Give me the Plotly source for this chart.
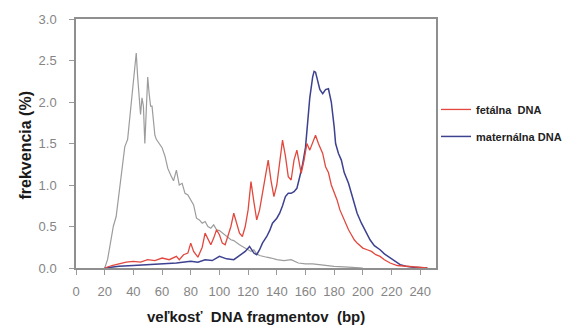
import plotly.graph_objects as go

# Grey curve (unlabelled)
grey_x = [20, 22, 24, 26, 28, 30, 32, 34, 36, 38, 40, 42, 43, 44, 45, 46, 47, 48, 49, 50,
          51, 52, 53, 54, 55, 56, 58, 60, 62, 64, 66, 68, 70, 71, 72, 74, 75, 76, 78, 80,
          82, 84, 86, 88, 90, 92, 94, 96, 98, 100, 102, 104, 106, 108, 110, 112, 114, 116,
          118, 120, 122, 124, 126, 128, 130, 133, 136, 140, 145, 150, 155, 160, 165, 170,
          175, 180, 190, 200]
grey_y = [0.0, 0.1, 0.3, 0.5, 0.62, 0.9, 1.2, 1.46, 1.55, 1.9, 2.2, 2.59, 2.3, 2.0, 1.85,
          2.05, 1.95, 1.5, 1.9, 2.3, 2.1, 1.95, 1.95, 1.75, 1.6, 1.55, 1.5, 1.45, 1.35, 1.2,
          1.12, 1.05, 1.18, 1.1, 1.0, 1.02, 0.95, 0.9, 0.88, 0.82, 0.76, 0.6, 0.58, 0.54,
          0.56, 0.5, 0.48, 0.52, 0.46, 0.45, 0.42, 0.4, 0.36, 0.34, 0.33, 0.3, 0.28, 0.26,
          0.24, 0.22, 0.2, 0.22, 0.17, 0.15, 0.14, 0.13, 0.12, 0.1, 0.09, 0.1, 0.06, 0.05,
          0.05, 0.04, 0.03, 0.02, 0.01, 0.0]

# fetálna DNA (red)
fetal_x = [20, 25, 30, 35, 40, 45, 50, 55, 60, 65, 70, 72, 75, 78, 80, 82, 85, 88, 90, 92,
           94, 96, 98, 100, 102, 104, 106, 108, 110, 112, 114, 116, 118, 120, 122, 124, 126,
           128, 130, 132, 134, 136, 138, 140, 142, 144, 146, 148, 150, 152, 154, 156, 157,
           159, 161, 163, 165, 167, 169, 170, 172, 174, 176, 178, 180, 182, 184, 186, 188,
           190, 192, 194, 196, 198, 200, 203, 206, 209, 212, 215, 219, 224, 230, 240, 245]
fetal_y = [0.0, 0.03, 0.05, 0.07, 0.08, 0.07, 0.1, 0.09, 0.12, 0.1, 0.14, 0.1, 0.16, 0.18,
           0.3, 0.2, 0.13, 0.25, 0.42, 0.34, 0.28, 0.36, 0.46, 0.4, 0.3, 0.28, 0.4, 0.5,
           0.66, 0.55, 0.42, 0.38, 0.5, 0.7, 1.04, 0.8, 0.58, 0.7, 0.9, 1.1, 1.3, 1.05,
           0.86, 1.0, 1.3, 1.54, 1.35, 1.1, 1.06, 1.3, 1.42, 1.2, 1.14, 1.3, 1.5, 1.42,
           1.5, 1.6, 1.5, 1.46, 1.38, 1.22, 1.15, 1.0, 0.92, 0.82, 0.7, 0.62, 0.52, 0.46,
           0.4, 0.34, 0.3, 0.27, 0.24, 0.22, 0.2, 0.16, 0.14, 0.1, 0.06, 0.03, 0.02, 0.01,
           0.0]

# maternálna DNA (blue)
maternal_x = [20, 30, 40, 50, 60, 70, 80, 85, 90, 95, 100, 105, 110, 115, 118, 121, 124,
              126, 128, 130, 133, 135, 137, 140, 142, 144, 146, 148, 150, 152, 154, 156, 158,
              160, 162, 163, 165, 166, 167, 168, 170, 172, 174, 176, 178, 180, 181, 183, 185,
              187, 190, 192, 194, 196, 199, 202, 205, 208, 212, 215, 219, 222, 226, 230, 235,
              245]
maternal_y = [0.0, 0.02, 0.03, 0.04, 0.05, 0.06, 0.08, 0.07, 0.1, 0.09, 0.14, 0.11, 0.1,
              0.16, 0.2, 0.26, 0.18, 0.16, 0.22, 0.3, 0.38, 0.45, 0.54, 0.6, 0.66, 0.75,
              0.86, 0.9, 0.9, 0.92, 0.96, 1.1, 1.25, 1.45, 1.85, 2.05, 2.3, 2.37, 2.36, 2.3,
              2.15, 2.1, 2.15, 2.16, 2.0, 1.7, 1.5, 1.38, 1.3, 1.15, 1.02, 0.9, 0.78, 0.66,
              0.54, 0.44, 0.34, 0.27, 0.22, 0.17, 0.12, 0.08, 0.04, 0.02, 0.01, 0.0]

x_ticks = list(range(0, 241, 20))
y_ticks = [0.0, 0.5, 1.0, 1.5, 2.0, 2.5, 3.0]

fig = go.Figure()
fig.add_trace(go.Scatter(x=grey_x, y=grey_y, mode="lines", showlegend=False,
                         line=dict(color="#9c9c9c", width=1.2)))
fig.add_trace(go.Scatter(x=maternal_x, y=maternal_y, mode="lines", name="maternálna DNA",
                         legendgroup="b", legendrank=2,
                         line=dict(color="#3c4190", width=1.5)))
fig.add_trace(go.Scatter(x=fetal_x, y=fetal_y, mode="lines", name="fetálna  DNA",
                         legendgroup="a", legendrank=1,
                         line=dict(color="#e2483e", width=1.3)))

axis_common = dict(showline=True, linecolor="#8f8f8f", linewidth=1.5, mirror=True,
                   ticks="outside", ticklen=5, tickcolor="#9a9a9a", tickwidth=1.2,
                   showgrid=False, zeroline=False,
                   tickfont=dict(family="Liberation Sans, Arial, sans-serif", size=13,
                                 color="#858585"))

fig.update_layout(
    width=587, height=329,
    margin=dict(l=76, r=151, t=19, b=61),
    paper_bgcolor="white", plot_bgcolor="white",
    xaxis=dict(range=[0, 251], tickvals=x_ticks, ticklabelstandoff=6, **axis_common),
    yaxis=dict(range=[0, 3.0], tickvals=y_ticks, tickformat=".1f", ticklabelstandoff=10,
               **axis_common),
    legend=dict(x=1.0, xanchor="left", y=0.695, yanchor="top",
                tracegroupgap=8, itemwidth=30,
                font=dict(family="Liberation Sans, Arial, sans-serif", size=11,
                          color="#222222", weight="bold"),
                bgcolor="rgba(0,0,0,0)"),
    annotations=[
        dict(text="<b>veľkosť  DNA fragmentov  (bp)</b>", xref="paper", yref="paper",
             x=0.5, y=0, xanchor="center", yanchor="middle", yshift=-48, showarrow=False,
             font=dict(family="Liberation Sans, Arial, sans-serif", size=15, color="#1a1a1a")),
        dict(text="<b>frekvencia (%)</b>", xref="paper", yref="paper",
             x=0, y=0.5, xanchor="center", yanchor="middle", xshift=-51, yshift=-2,
             textangle=-90, showarrow=False,
             font=dict(family="Liberation Sans, Arial, sans-serif", size=16, color="#1a1a1a")),
    ],
)

fig.write_html("out.html")
